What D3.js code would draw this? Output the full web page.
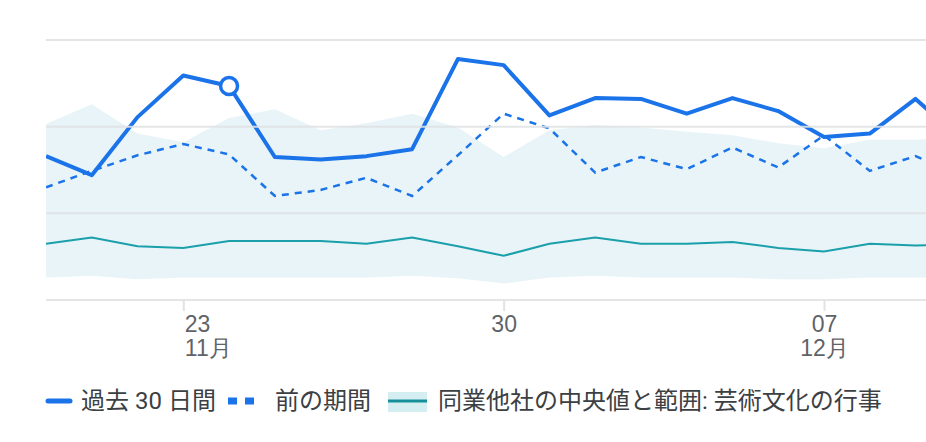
<!DOCTYPE html>
<html>
<head>
<meta charset="utf-8">
<script src="https://cdn.jsdelivr.net/npm/d3@7"></script>
<style>
  html, body { margin: 0; padding: 0; background: #fff; }
  svg { display: block; font-family: Roboto, "Noto Sans CJK JP", sans-serif; }
</style>
</head>
<body>
<svg id="chart" width="926" height="442"></svg>
<script>
// ---- data ----
const dates = [
  "2023-11-20","2023-11-21","2023-11-22","2023-11-23","2023-11-24","2023-11-25","2023-11-26",
  "2023-11-27","2023-11-28","2023-11-29","2023-11-30","2023-12-01","2023-12-02","2023-12-03",
  "2023-12-04","2023-12-05","2023-12-06","2023-12-07","2023-12-08","2023-12-09","2023-12-10"
];
const last30 = [166, 144, 211, 259, 247, 165, 162, 166, 174, 278, 271, 213, 233, 232, 215, 233, 218, 188, 192, 232, 185];
const previous = [130, 149, 167, 180, 168, 120, 127, 141, 120, 167, 215, 198, 147, 165, 151, 176, 153, 190, 149, 166, 144];
const peerMedian = [65, 72, 62, 60, 68, 68, 68, 65, 72, 62, 51, 65, 72, 65, 65, 67, 60, 56, 65, 63, 64];
const peerHigh = [203, 226, 192, 182, 210, 220, 196, 204, 215, 199, 165, 196, 202, 199, 194, 190, 181, 175, 185, 185, 188];
const peerLow = [26, 28, 24, 26, 26, 26, 26, 26, 28, 25, 19, 26, 28, 26, 26, 26, 24, 24, 26, 26, 26];
const gridValues = [0, 100, 200, 300];
const tickDates = ["2023-11-23", "2023-11-30", "2023-12-07"];
const tickLabels = [["23", "11月"], ["30", ""], ["07", "12月"]];
const highlightIndex = 4;
const legendLabels = ["過去 30 日間", "前の期間", "同業他社の中央値と範囲: 芸術文化の行事"];

// ---- setup ----
const parse = d3.timeParse("%Y-%m-%d");
const xDates = dates.map(parse);
const svg = d3.select("#chart");
const plotLeft = 46, plotRight = 926, plotTop = 40, plotBottom = 300;

const x = d3.scaleTime()
  .domain([parse("2023-11-20"), parse("2023-12-07")])
  .range([46, 824]);
const y = d3.scaleLinear().domain([0, 300]).range([plotBottom, plotTop]);

svg.append("defs").append("clipPath").attr("id", "plotclip")
  .append("rect").attr("x", plotLeft).attr("y", 0).attr("width", plotRight - plotLeft).attr("height", plotBottom + 5);

const COLOR_BLUE = "#1a73e8";
const COLOR_TEAL = "#1a9fab";
const COLOR_BAND = "#e8f4f8";
const COLOR_GRID = "#e0e2e4";

const plot = svg.append("g").attr("clip-path", "url(#plotclip)");

// band
const rows = xDates.map((d, i) => ({ d, lo: peerLow[i], hi: peerHigh[i], med: peerMedian[i], cur: last30[i], prev: previous[i] }));
plot.append("path")
  .datum(rows)
  .attr("fill", COLOR_BAND)
  .attr("d", d3.area().x(r => x(r.d)).y0(r => y(r.lo)).y1(r => y(r.hi)));

// gridlines
svg.append("g").selectAll("line").data(gridValues).join("line")
  .attr("x1", plotLeft).attr("x2", plotRight)
  .attr("y1", v => y(v)).attr("y2", v => y(v))
  .attr("stroke", COLOR_GRID).attr("stroke-width", 2)
  .attr("stroke-opacity", 0.9);

// x axis
const axis = d3.axisBottom(x)
  .tickValues(tickDates.map(parse))
  .tickSize(11)
  .tickFormat("");
const ax = svg.append("g").attr("transform", `translate(0,${plotBottom})`).call(axis);
ax.select(".domain").remove();
ax.selectAll(".tick line").attr("stroke", COLOR_GRID).attr("stroke-width", 2);
ax.selectAll(".tick").each(function(d, i) {
  const anchor = i === 0 ? "start" : "middle";
  const dx = i === 0 ? 1 : 0;
  const t = d3.select(this).append("text")
    .attr("fill", "#5f6368")
    .attr("font-size", 23)
    .attr("text-anchor", anchor);
  t.append("tspan").attr("x", dx).attr("y", 32).text(tickLabels[i][0]);
  if (tickLabels[i][1]) t.append("tspan").attr("x", dx).attr("y", 56).text(tickLabels[i][1]);
});

// median
plot.append("path").datum(rows)
  .attr("fill", "none").attr("stroke", COLOR_TEAL).attr("stroke-width", 2)
  .attr("d", d3.line().x(r => x(r.d)).y(r => y(r.med)));

// previous
plot.append("path").datum(rows)
  .attr("fill", "none").attr("stroke", COLOR_BLUE).attr("stroke-width", 2.5)
  .attr("stroke-dasharray", "7,6")
  .attr("d", d3.line().x(r => x(r.d)).y(r => y(r.prev)));

// last 30
plot.append("path").datum(rows)
  .attr("fill", "none").attr("stroke", COLOR_BLUE).attr("stroke-width", 4)
  .attr("stroke-linejoin", "round")
  .attr("d", d3.line().x(r => x(r.d)).y(r => y(r.cur)));

// highlight marker
svg.append("circle")
  .attr("cx", x(xDates[highlightIndex])).attr("cy", y(last30[highlightIndex]))
  .attr("r", 8.5).attr("fill", "#fff")
  .attr("stroke", COLOR_BLUE).attr("stroke-width", 3.5);

// legend
const lg = svg.append("g").attr("font-size", 24).attr("fill", "#3c4043");
const ly = 401;
lg.append("line").attr("x1", 48).attr("x2", 70).attr("y1", ly).attr("y2", ly)
  .attr("stroke", COLOR_BLUE).attr("stroke-width", 5).attr("stroke-linecap", "round");
lg.append("text").attr("x", 81).attr("y", ly).attr("dominant-baseline", "central").text(legendLabels[0]);
lg.append("line").attr("x1", 228).attr("x2", 254).attr("y1", ly).attr("y2", ly)
  .attr("stroke", COLOR_BLUE).attr("stroke-width", 7).attr("stroke-dasharray", "9,8");
lg.append("text").attr("x", 275).attr("y", ly).attr("dominant-baseline", "central").text(legendLabels[1]);
lg.append("rect").attr("x", 388).attr("y", 392).attr("width", 39).attr("height", 20).attr("fill", "#d5eef2");
lg.append("line").attr("x1", 388).attr("x2", 427).attr("y1", ly).attr("y2", ly)
  .attr("stroke", "#178f9a").attr("stroke-width", 3);
lg.append("text").attr("x", 438).attr("y", ly).attr("dominant-baseline", "central").text(legendLabels[2]);
</script>
</body>
</html>
